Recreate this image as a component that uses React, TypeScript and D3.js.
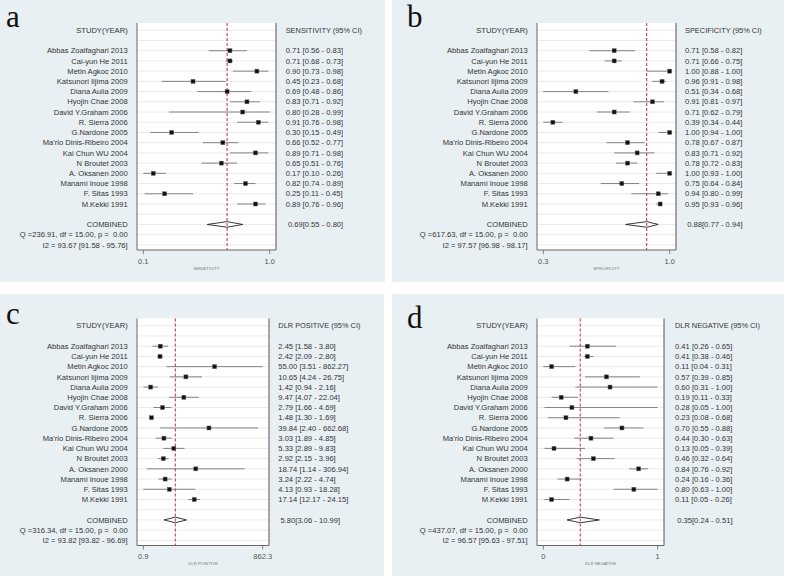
import React from "react";
import * as d3 from "d3";

const STUDIES = [
  "Abbas Zoalfaghari 2013", "Cai-yun He 2011", "Metin Agkoc 2010", "Katsunori Iijima 2009",
  "Diana Aulia 2009", "Hyojin Chae 2008", "David Y.Graham 2006", "R. Sierra 2006",
  "G.Nardone 2005", "Ma'rio Dinis-Ribeiro 2004", "Kai Chun WU 2004", "N Broutet 2003",
  "A. Oksanen 2000", "Manami Inoue 1998", "F. Sitas 1993", "M.Kekki 1991",
];

const SENS = [0.71, 0.71, 0.90, 0.45, 0.69, 0.83, 0.80, 0.91, 0.30, 0.66, 0.89, 0.65, 0.17, 0.82, 0.25, 0.89];
const SENS_LO = [0.56, 0.68, 0.73, 0.23, 0.48, 0.71, 0.28, 0.76, 0.15, 0.52, 0.71, 0.51, 0.10, 0.74, 0.11, 0.76];
const SENS_HI = [0.83, 0.73, 0.98, 0.68, 0.86, 0.92, 0.99, 0.98, 0.49, 0.77, 0.98, 0.76, 0.26, 0.89, 0.45, 0.96];
const SENS_POOL = [0.69, 0.55, 0.80];

const SPEC = [0.71, 0.71, 1.00, 0.96, 0.51, 0.91, 0.71, 0.39, 1.00, 0.78, 0.83, 0.78, 1.00, 0.75, 0.94, 0.95];
const SPEC_LO = [0.58, 0.66, 0.88, 0.91, 0.34, 0.81, 0.62, 0.34, 0.94, 0.67, 0.71, 0.72, 0.93, 0.64, 0.80, 0.93];
const SPEC_HI = [0.82, 0.75, 1.00, 0.98, 0.68, 0.97, 0.79, 0.44, 1.00, 0.87, 0.92, 0.83, 1.00, 0.84, 0.99, 0.96];
const SPEC_POOL = [0.88, 0.77, 0.94];

const DLRP = [2.45, 2.42, 55.00, 10.65, 1.42, 9.47, 2.79, 1.48, 39.84, 3.03, 5.33, 2.92, 18.74, 3.24, 4.13, 17.14];
const DLRP_LO = [1.58, 2.09, 3.51, 4.24, 0.94, 4.07, 1.66, 1.30, 2.40, 1.89, 2.89, 2.15, 1.14, 2.22, 0.93, 12.17];
const DLRP_HI = [3.80, 2.80, 862.27, 26.75, 2.16, 22.04, 4.69, 1.69, 662.68, 4.85, 9.83, 3.96, 306.94, 4.74, 18.28, 24.15];
const DLRP_POOL = [5.80, 3.06, 10.99];

const DLRN = [0.41, 0.41, 0.11, 0.57, 0.60, 0.19, 0.28, 0.23, 0.70, 0.44, 0.13, 0.46, 0.84, 0.24, 0.80, 0.11];
const DLRN_LO = [0.26, 0.38, 0.04, 0.39, 0.31, 0.11, 0.05, 0.08, 0.55, 0.30, 0.05, 0.32, 0.76, 0.16, 0.63, 0.05];
const DLRN_HI = [0.65, 0.46, 0.31, 0.85, 1.00, 0.33, 1.00, 0.68, 0.88, 0.63, 0.39, 0.64, 0.92, 0.36, 1.00, 0.26];
const DLRN_POOL = [0.35, 0.24, 0.51];

const PANELS = [
  { letter: "a", ox: 0, oy: 0, est: SENS, lo: SENS_LO, hi: SENS_HI, pool: SENS_POOL, log: false, dec: 1,
    head: "SENSITIVITY (95% CI)", title: "SENSITIVITY", boxR: 276, textX: 285.7,
    q: "Q =236.91, df = 15.00, p =  0.00", i2: "I2 = 93.67 [91.58 - 95.76]", ly: 27.3 },
  { letter: "b", ox: 400, oy: 0, est: SPEC, lo: SPEC_LO, hi: SPEC_HI, pool: SPEC_POOL, log: false, dec: 1,
    head: "SPECIFICITY (95% CI)", title: "SPECIFICITY", boxR: 276, textX: 285,
    q: "Q =617.63, df = 15.00, p =  0.00", i2: "I2 = 97.57 [96.98 - 98.17]", ly: 27.3 },
  { letter: "c", ox: 0, oy: 295.5, est: DLRP, lo: DLRP_LO, hi: DLRP_HI, pool: DLRP_POOL, log: true, dec: 1,
    head: "DLR POSITIVE (95% CI)", title: "DLR POSITIVE", boxR: 269, textX: 278.3,
    q: "Q =316.34, df = 15.00, p =  0.00", i2: "I2 = 93.82 [93.82 - 96.69]", ly: 28.5 },
  { letter: "d", ox: 400, oy: 295.5, est: DLRN, lo: DLRN_LO, hi: DLRN_HI, pool: DLRN_POOL, log: false, dec: 0,
    head: "DLR NEGATIVE (95% CI)", title: "DLR NEGATIVE", boxR: 264, textX: 275,
    q: "Q =437.07, df = 15.00, p =  0.00", i2: "I2 = 96.57 [95.63 - 97.51]", ly: 32 },
];

const FONT = "'Liberation Sans', Arial, sans-serif";
const BOX_L = 137;
const BOX_T = 23;
const BOX_B = 250;
const ROW0 = 50.7;
const STEP = 10.22;
const LABEL_R = 127.7;

function rowY(i: number) {
  return ROW0 + i * STEP;
}

function Panel({ p }: { p: any }) {
  const dmin = d3.min(p.lo as number[])!;
  const dmax = d3.max(p.hi as number[])!;
  const range: [number, number] = [BOX_L + 6.3, p.boxR - 6.3];
  const x: any = p.log
    ? d3.scaleLog().domain([dmin, dmax]).range(range)
    : d3.scaleLinear().domain([dmin, dmax]).range(range);
  const f2 = d3.format(".2f");
  const gridRows = d3.range(-2, 20);
  const [pe, pl, ph] = p.pool;
  const yc = rowY(17);
  const ticks = [dmin, dmax];
  return (
    <g transform={`translate(${p.ox},${p.oy})`}>
      <text x={p.ox === 0 ? 6 : 7} y={p.ly} fontFamily="'Liberation Serif', 'Times New Roman', serif" fontSize={31} fill="#111">
        {p.letter}
      </text>
      <rect x={BOX_L} y={BOX_T} width={p.boxR - BOX_L} height={BOX_B - BOX_T} fill="#ffffff" />
      {gridRows.map((i) => (
        <line key={i} x1={BOX_L} x2={p.boxR} y1={rowY(i)} y2={rowY(i)} stroke="#e4e4e4" strokeWidth={0.8} />
      ))}
      <line x1={BOX_L} x2={BOX_L} y1={BOX_T} y2={BOX_B} stroke="#666" strokeWidth={1} />
      <line x1={p.boxR} x2={p.boxR} y1={BOX_T} y2={BOX_B} stroke="#555" strokeWidth={1} />
      <line x1={BOX_L} x2={p.boxR} y1={BOX_B} y2={BOX_B} stroke="#666" strokeWidth={1} />
      {ticks.map((t, i) => (
        <g key={i}>
          <line x1={x(t)} x2={x(t)} y1={BOX_B} y2={BOX_B + 4} stroke="#666" strokeWidth={0.8} />
          <text x={x(t)} y={BOX_B + 13.5} textAnchor="middle" fontFamily={FONT} fontSize={7.5} fill="#555">
            {t.toFixed(p.dec)}
          </text>
        </g>
      ))}
      <text x={(range[0] + range[1]) / 2} y={BOX_B + 19.5} textAnchor="middle" fontFamily={FONT} fontSize={4.3} fill="#777">
        {p.title}
      </text>
      {/* labels */}
      <text x={LABEL_R} y={rowY(-2)} dy="0.35em" textAnchor="end" fontFamily={FONT} fontSize={7.6} fill="#333">
        STUDY(YEAR)
      </text>
      <text x={p.textX} y={rowY(-2)} dy="0.35em" fontFamily={FONT} fontSize={7.4} fill="#333">
        {p.head}
      </text>
      {STUDIES.map((s, i) => (
        <g key={s}>
          <text x={LABEL_R} y={rowY(i)} dy="0.35em" textAnchor="end" fontFamily={FONT} fontSize={7.6} fill="#333">
            {s}
          </text>
          <text x={p.textX} y={rowY(i)} dy="0.35em" fontFamily={FONT} fontSize={7.6} fill="#333">
            {`${f2(p.est[i])} [${f2(p.lo[i])} - ${f2(p.hi[i])}]`}
          </text>
        </g>
      ))}
      <text x={LABEL_R} y={rowY(17)} dy="0.35em" textAnchor="end" fontFamily={FONT} fontSize={7.6} fill="#333">
        COMBINED
      </text>
      <text x={LABEL_R} y={rowY(18)} dy="0.35em" textAnchor="end" fontFamily={FONT} fontSize={7.6} fill="#333" style={{ whiteSpace: "pre" }}>
        {p.q}
      </text>
      <text x={LABEL_R} y={rowY(19)} dy="0.35em" textAnchor="end" fontFamily={FONT} fontSize={7.6} fill="#333">
        {p.i2}
      </text>
      <text x={p.textX + 2.2} y={rowY(17)} dy="0.35em" fontFamily={FONT} fontSize={7.6} fill="#333">
        {`${f2(pe)}[${f2(pl)} - ${f2(ph)}]`}
      </text>
      {/* CI lines */}
      {p.est.map((e: number, i: number) => (
        <line key={"ci" + i} x1={x(p.lo[i])} x2={x(p.hi[i])} y1={rowY(i)} y2={rowY(i)} stroke="#777" strokeWidth={0.9} />
      ))}
      {/* diamond */}
      <polygon
        points={`${x(pl)},${yc} ${x(pe)},${yc - 2.8} ${x(ph)},${yc} ${x(pe)},${yc + 2.8}`}
        fill="#fff"
        stroke="#222"
        strokeWidth={0.9}
      />
      <line x1={x(pe)} x2={x(pe)} y1={BOX_T} y2={BOX_B} stroke="#c8283a" strokeWidth={1} strokeDasharray="3,2" />
      {p.est.map((e: number, i: number) => (
        <rect key={"m" + i} x={x(e) - 2} y={rowY(i) - 2} width={4} height={4} fill="#111" stroke="#666" strokeWidth={0.5} />
      ))}
    </g>
  );
}

export default function App() {
  return (
    <svg width={789} height={579} style={{ position: "absolute", left: 0, top: 0 }}>
      <rect x={0} y={0} width={789} height={579} fill="#ffffff" />
      <rect x={0} y={0} width={385} height={282} fill="#e9f0f3" />
      <rect x={392} y={0} width={392} height={282} fill="#e9f0f3" />
      <rect x={0} y={294} width={384} height={282} fill="#e9f0f3" />
      <rect x={392} y={294} width={392} height={282} fill="#e9f0f3" />
      {PANELS.map((p) => (
        <Panel key={p.letter} p={p} />
      ))}
    </svg>
  );
}
